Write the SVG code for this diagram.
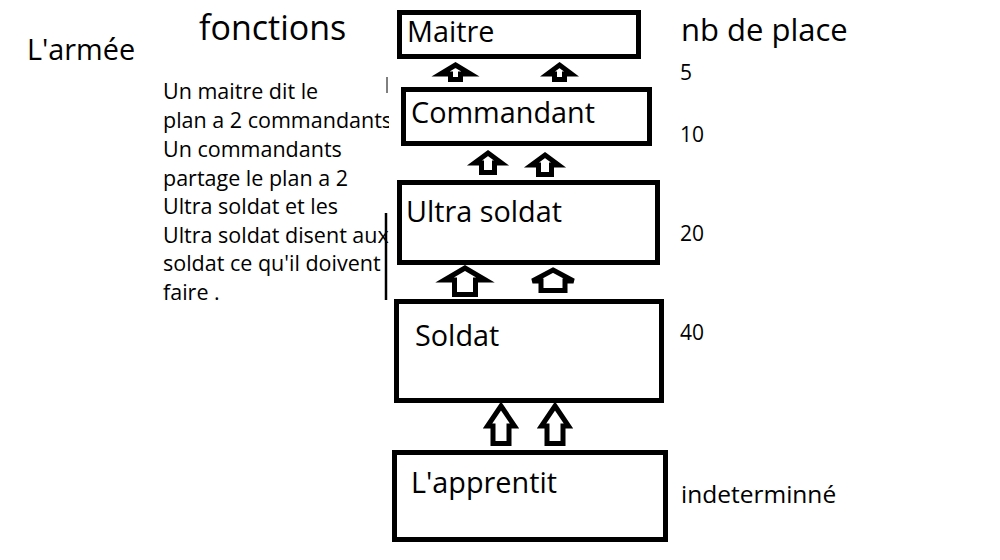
<svg xmlns="http://www.w3.org/2000/svg" width="1000" height="560" viewBox="0 0 1000 560">
  <style>
    .box { fill: #fff; stroke: #000; stroke-width: 5; }
    .arrow { fill: #fff; stroke: #000; stroke-width: 5; stroke-linejoin: miter; }
    .lbl { font-family: "Open Sans", "Noto Sans", sans-serif; font-size: 28.8px; fill: #000; }
    .para { font-family: "Open Sans", "Noto Sans", sans-serif; font-size: 21.5px; fill: #000; }
    .num { font-family: "Open Sans", "Noto Sans", sans-serif; font-size: 21px; fill: #000; }
  </style>
  <defs>
    <clipPath id="paraClip"><rect x="0" y="60" width="389" height="260"/></clipPath>
  </defs>
  <rect width="1000" height="560" fill="#fff"/>

  <g id="titles">
    <text class="lbl" x="27" y="60">L'armée</text>
    <text class="lbl" x="199" y="40" style="font-size:34px">fonctions</text>
    <text class="lbl" x="681" y="41" style="font-size:31px">nb de place</text>
  </g>

  <g id="description" clip-path="url(#paraClip)">
    <text class="para" x="163" y="99">Un maitre dit le</text>
    <text class="para" x="163" y="128">plan a 2 commandants</text>
    <text class="para" x="163" y="157">Un commandants</text>
    <text class="para" x="163" y="186">partage le plan a 2</text>
    <text class="para" x="163" y="214">Ultra soldat et les</text>
    <text class="para" x="163" y="243">Ultra soldat disent aux</text>
    <text class="para" x="163" y="271">soldat ce qu'il doivent</text>
    <text class="para" x="163" y="300">faire .</text>
  </g>
  <line x1="386" y1="213" x2="386" y2="300" stroke="#000" stroke-width="2.5"/>
  <line x1="387" y1="77" x2="387" y2="93" stroke="#000" stroke-width="1"/>

  <g id="connectors">
    <path class="arrow" d="M455.5,65 L470.5,74 L460.5,74 L460.5,79.5 L450.5,79.5 L450.5,74 L440.5,74 Z"/>
    <path class="arrow" d="M559.5,65 L571.5,74 L564.5,74 L564.5,79.5 L554.5,79.5 L554.5,74 L547.5,74 Z"/>
    <path class="arrow" d="M488,153 L501.5,163 L494.5,163 L494.5,172.5 L481.5,172.5 L481.5,163 L474.5,163 Z"/>
    <path class="arrow" d="M545,155 L558.5,165 L551.5,165 L551.5,174.5 L538.5,174.5 L538.5,165 L531.5,165 Z"/>
    <path class="arrow" d="M465,268 L485.5,280 L475.5,280 L475.5,294.5 L454.5,294.5 L454.5,280 L444.5,280 Z"/>
    <path class="arrow" d="M553,270 L573.5,281 L565,281 L565,290.5 L541,290.5 L541,281 L532.5,281 Z"/>
    <path class="arrow" d="M501,406 L514.5,426 L509,426 L509,443.5 L493,443.5 L493,426 L487.5,426 Z"/>
    <path class="arrow" d="M555,406 L568.5,426 L563,426 L563,443.5 L547,443.5 L547,426 L541.5,426 Z"/>
  </g>

  <g id="maitre">
    <rect class="box" x="399.5" y="12.5" width="239" height="44"/>
    <text class="lbl" x="407" y="42">Maitre</text>
  </g>
  <g id="commandant">
    <rect class="box" x="403.5" y="89.5" width="246" height="54"/>
    <text class="lbl" x="411" y="123">Commandant</text>
  </g>
  <g id="ultra-soldat">
    <rect class="box" x="399.5" y="182.5" width="258" height="80"/>
    <text class="lbl" x="406" y="222">Ultra soldat</text>
  </g>
  <g id="soldat">
    <rect class="box" x="396.5" y="301.5" width="265" height="99"/>
    <text class="lbl" x="415" y="346">Soldat</text>
  </g>
  <g id="apprentit">
    <rect class="box" x="394.5" y="452.5" width="271" height="87"/>
    <text class="lbl" x="411" y="493">L'apprentit</text>
  </g>

  <g id="places">
    <text class="num" x="680" y="80">5</text>
    <text class="num" x="680" y="142">10</text>
    <text class="num" x="680" y="241">20</text>
    <text class="num" x="680" y="340">40</text>
    <text class="num" x="681" y="503" style="font-size:24.5px">indeterminné</text>
  </g>
</svg>
